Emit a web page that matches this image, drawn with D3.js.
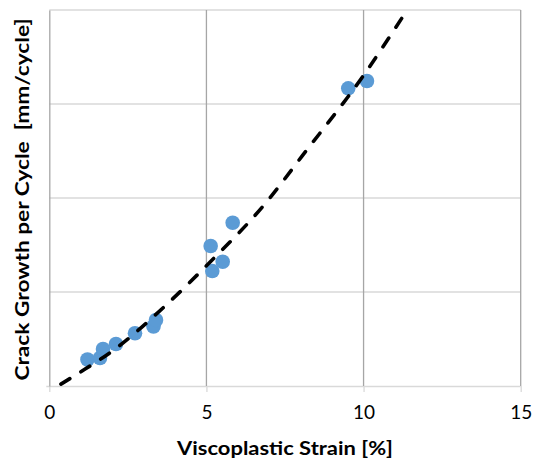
<!DOCTYPE html>
<html>
<head>
<meta charset="utf-8">
<script src="https://cdn.jsdelivr.net/npm/d3@7"></script>
<style>
  html, body { margin: 0; padding: 0; background: #fff; }
  svg { display: block; }
  text { font-family: Lato, "Open Sans", sans-serif; fill: #000; }
</style>
</head>
<body>
<svg id="chart" width="535" height="468"></svg>
<script>
// Measured strain (%) and crack growth per cycle
const strain = [1.215, 1.613, 1.709, 2.122, 2.727, 3.315, 3.395,
                5.135, 5.186, 5.517, 5.835, 9.513, 10.108];
const growth = [0.282, 0.298, 0.394, 0.447, 0.561, 0.633, 0.702,
                1.489, 1.223, 1.322, 1.737, 3.167, 3.245];

// Power-law trend curve through the data
const trendX = [0.37, 1.14, 2.0, 3.68, 5.0, 6.92, 8.03, 9.99, 11.25];
const trendY = [0.02, 0.18, 0.37, 0.85, 1.28, 1.96, 2.44, 3.30, 3.93];

const xTicks = [0, 5, 10, 15];
const yTicks = [0, 1, 2, 3, 4];

const xLabel = "Viscoplastic Strain [%]";
const yLabel = "Crack Growth per Cycle  [mm/cycle]";

const svg = d3.select("#chart");
const m = { left: 49.3, right: 520.7, top: 10, bottom: 386 };

const x = d3.scaleLinear().domain([0, 15]).range([m.left, m.right]);
const y = d3.scaleLinear().domain([0, 4]).range([m.bottom, m.top]);

// horizontal gridlines
svg.append("g")
  .selectAll("line")
  .data(yTicks.filter(d => d > 0))
  .join("line")
  .attr("x1", m.left).attr("x2", m.right)
  .attr("y1", d => y(d)).attr("y2", d => y(d))
  .attr("stroke", "#d9d9d9").attr("stroke-width", 1.3);

// x axis with outside ticks
const xAxis = svg.append("g")
  .attr("transform", `translate(0,${m.bottom})`)
  .call(d3.axisBottom(x).tickValues(xTicks).tickSize(6).tickPadding(14)
        .tickFormat(d3.format("d")));
xAxis.select(".domain").attr("stroke", "#d9d9d9").attr("stroke-width", 1.3)
  .attr("d", `M${m.left - 3},0.5H${m.right}`);
xAxis.selectAll(".tick line").attr("stroke", "#d9d9d9").attr("stroke-width", 1.3);
xAxis.selectAll(".tick text")
  .attr("font-size", "19px")
  .style("font-family", "Lato, 'Open Sans', sans-serif")
  .attr("fill", "#000");

// vertical gridlines
svg.append("g")
  .selectAll("line")
  .data(xTicks.filter(d => d > 0))
  .join("line")
  .attr("x1", d => x(d)).attr("x2", d => x(d))
  .attr("y1", m.top).attr("y2", m.bottom)
  .attr("stroke", "#a6a6a6").attr("stroke-width", 1.3);

// y axis line (no labels)
svg.append("g")
  .attr("transform", `translate(${m.left},0)`)
  .call(d3.axisLeft(y).tickValues(yTicks).tickSize(0).tickFormat(""))
  .call(g => g.select(".domain").attr("stroke", "#a6a6a6").attr("stroke-width", 1.3));

// data points
const pts = strain.map((s, i) => [s, growth[i]]);
svg.append("g")
  .selectAll("circle")
  .data(pts)
  .join("circle")
  .attr("cx", d => x(d[0]))
  .attr("cy", d => y(d[1]))
  .attr("r", 7.3)
  .attr("fill", "#5b9bd5");

// dashed trend curve
const trend = trendX.map((t, i) => [t, trendY[i]]);
svg.append("path")
  .datum(trend)
  .attr("fill", "none")
  .attr("stroke", "#000")
  .attr("stroke-width", 3.6)
  .attr("stroke-linecap", "round")
  .attr("stroke-dasharray", "10.5,13")
  .attr("d", d3.line().x(d => x(d[0])).y(d => y(d[1])).curve(d3.curveMonotoneX));

// axis titles
svg.append("text")
  .attr("x", (m.left + m.right) / 2)
  .attr("y", 455)
  .attr("text-anchor", "middle")
  .attr("font-size", "19.5px")
  .attr("font-weight", "bold")
  .attr("textLength", 216)
  .attr("lengthAdjust", "spacingAndGlyphs")
  .text(xLabel);

svg.append("text")
  .attr("transform", `translate(29,${(m.top + m.bottom) / 2 + 1.5}) rotate(-90)`)
  .attr("text-anchor", "middle")
  .attr("font-size", "19.5px")
  .attr("font-weight", "bold")
  .attr("textLength", 362)
  .attr("lengthAdjust", "spacingAndGlyphs")
  .style("white-space", "pre")
  .text(yLabel);
</script>
</body>
</html>
